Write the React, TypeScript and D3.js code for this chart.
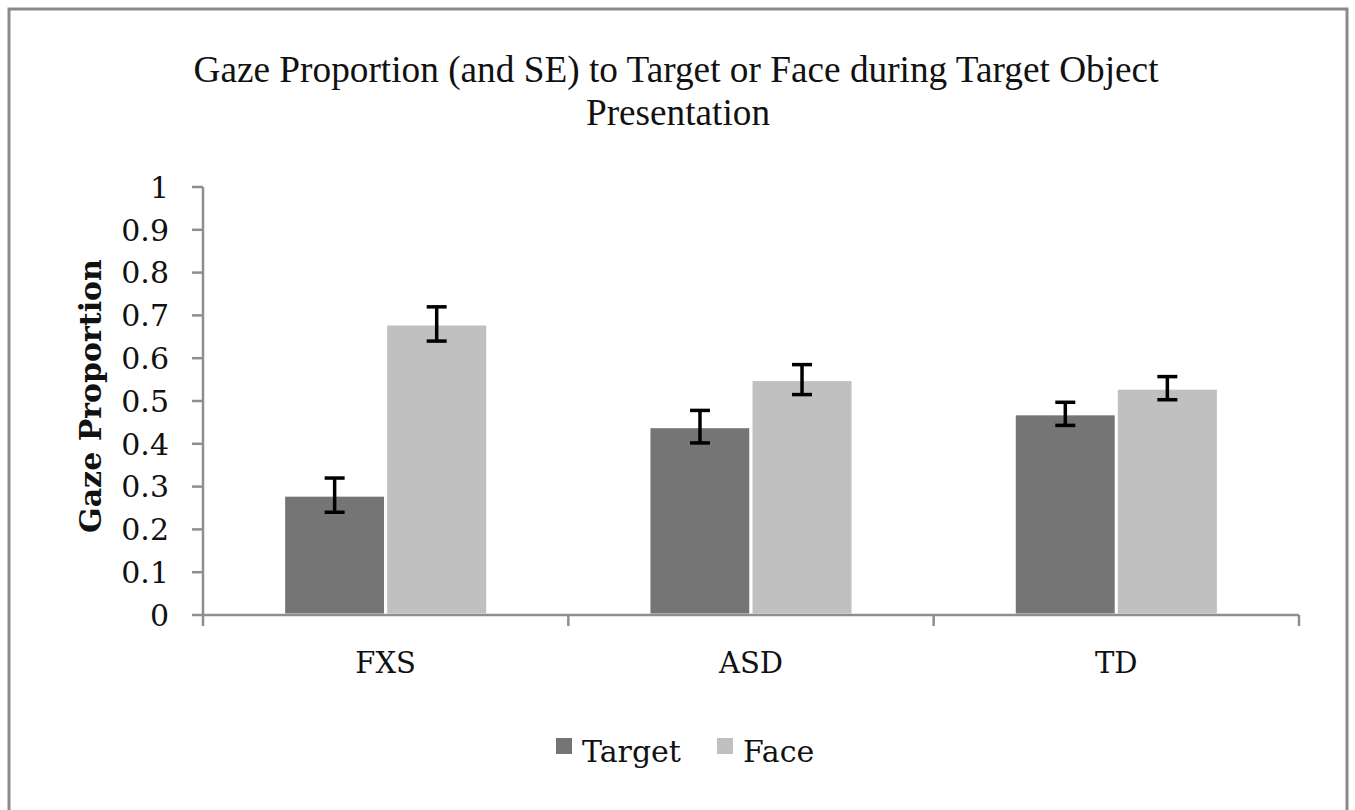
import * as d3 from "d3";

const CATEGORIES = ["FXS", "ASD", "TD"];
const SERIES = ["Target", "Face"];
const TARGET_VALUES = [0.28, 0.44, 0.47];
const FACE_VALUES = [0.68, 0.55, 0.53];
const TARGET_SE = [0.04, 0.038, 0.027];
const FACE_SE = [0.04, 0.035, 0.027];
const Y_TICKS = [0, 0.1, 0.2, 0.3, 0.4, 0.5, 0.6, 0.7, 0.8, 0.9, 1];

const COLORS: Record<string, string> = { Target: "#757575", Face: "#c0c0c0" };
const AXIS = "#8e8e8e";
const SERIF = "'DejaVu Serif', serif";

const W = 1355;
const H = 810;
const plot = { left: 203, right: 1299, top: 187, bottom: 615 };

export default function App() {
  const x0 = d3.scaleBand().domain(CATEGORIES).range([plot.left, plot.right]);
  const x1 = d3.scaleBand().domain(SERIES).range([0, x0.bandwidth()]).paddingOuter(0.79);
  const y = d3.scaleLinear().domain([0, 1]).range([plot.bottom, plot.top]);

  const rows = CATEGORIES.flatMap((c, i) => [
    { cat: c, s: "Target", v: TARGET_VALUES[i], se: TARGET_SE[i] },
    { cat: c, s: "Face", v: FACE_VALUES[i], se: FACE_SE[i] },
  ]);

  const tickX = [...CATEGORIES.map((c) => x0(c) as number), plot.right];

  return (
    <div style={{ position: "absolute", left: 0, top: 0 }}>
      <svg width={W} height={H} style={{ display: "block", background: "#fff" }}>
        <rect x={9} y={9} width={1338} height={808} fill="#fff" stroke="#8a8a8a" strokeWidth={3} />

        {/* Title (condensed serif, like the original) */}
        <g fontFamily="'Liberation Serif', 'Times New Roman', serif" fontSize={38} fill="#111" textAnchor="middle">
          <text x={676} y={82} textLength={965} lengthAdjust="spacingAndGlyphs">
            Gaze Proportion (and SE) to Target or Face during Target Object
          </text>
          <text x={678} y={125} textLength={184} lengthAdjust="spacingAndGlyphs">
            Presentation
          </text>
        </g>

        {/* Bars */}
        {rows.map((r) => {
          const bx = (x0(r.cat) as number) + (x1(r.s) as number);
          return (
            <rect
              key={r.cat + r.s}
              x={bx}
              y={y(r.v)}
              width={x1.bandwidth()}
              height={plot.bottom - y(r.v)}
              fill={COLORS[r.s]}
              stroke="#fff"
              strokeWidth={3}
            />
          );
        })}

        {/* Error bars */}
        {rows.map((r) => {
          const cx = (x0(r.cat) as number) + (x1(r.s) as number) + x1.bandwidth() / 2;
          const y1 = y(r.v + r.se);
          const y2 = y(r.v - r.se);
          return (
            <g key={"e" + r.cat + r.s} stroke="#000" strokeWidth={3.5}>
              <line x1={cx} x2={cx} y1={y1} y2={y2} />
              <line x1={cx - 10} x2={cx + 10} y1={y1} y2={y1} />
              <line x1={cx - 10} x2={cx + 10} y1={y2} y2={y2} />
            </g>
          );
        })}

        {/* Y axis */}
        <line x1={plot.left} x2={plot.left} y1={plot.top} y2={plot.bottom} stroke={AXIS} strokeWidth={2.5} />
        {Y_TICKS.map((t) => (
          <g key={t}>
            <line x1={plot.left - 11} x2={plot.left} y1={y(t)} y2={y(t)} stroke={AXIS} strokeWidth={2.5} />
            <text
              x={plot.left - 34}
              y={y(t)}
              dy="0.36em"
              textAnchor="end"
              fontFamily={SERIF}
              fontSize={30}
              fill="#111"
            >
              {String(t)}
            </text>
          </g>
        ))}
        <text
          transform={`translate(101,${(plot.top + plot.bottom) / 2 - 5}) rotate(-90)`}
          textAnchor="middle"
          fontFamily={SERIF}
          fontWeight="bold"
          fontSize={30}
          fill="#111"
        >
          Gaze Proportion
        </text>

        {/* X axis */}
        <line x1={plot.left} x2={plot.right} y1={plot.bottom} y2={plot.bottom} stroke={AXIS} strokeWidth={2.5} />
        {tickX.map((tx, i) => (
          <line key={i} x1={tx} x2={tx} y1={plot.bottom} y2={plot.bottom + 11} stroke={AXIS} strokeWidth={2.5} />
        ))}
        {CATEGORIES.map((c) => (
          <text
            key={c}
            x={(x0(c) as number) + x0.bandwidth() / 2}
            y={673}
            textAnchor="middle"
            fontFamily={SERIF}
            fontSize={29}
            fill="#111"
          >
            {c}
          </text>
        ))}

        {/* Legend */}
        {SERIES.map((s, i) => {
          const lx = i === 0 ? 556 : 717;
          return (
            <g key={s}>
              <rect x={lx} y={738} width={16} height={16} fill={COLORS[s]} />
              <text x={lx + 26} y={762} fontFamily={SERIF} fontSize={30} fill="#111">
                {s}
              </text>
            </g>
          );
        })}
      </svg>
    </div>
  );
}
